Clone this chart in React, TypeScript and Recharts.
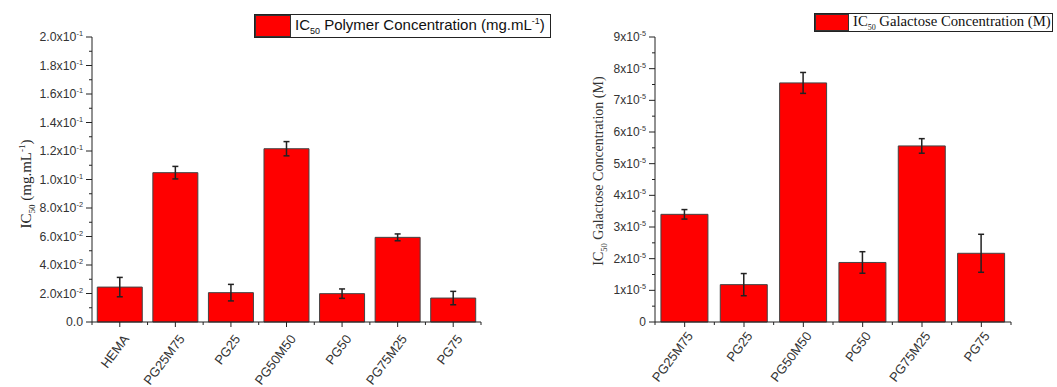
import React from "react";
import { BarChart, Bar, XAxis, YAxis, ErrorBar, Legend, Label } from "recharts";

// left panel: IC50 of each polymer (mg/mL)
const polymerNames = ["HEMA", "PG25M75", "PG25", "PG50M50", "PG50", "PG75M25", "PG75"];
const polymerIC50 = [0.0245, 0.1048, 0.0206, 0.1216, 0.0199, 0.0594, 0.0168];
const polymerErr = [0.0068, 0.0044, 0.0058, 0.005, 0.0033, 0.0024, 0.0047];
const polymerMajorTicks = [0, 0.02, 0.04, 0.06, 0.08, 0.1, 0.12, 0.14, 0.16, 0.18, 0.2];
const polymerMinorTicks = [0.01, 0.03, 0.05, 0.07, 0.09, 0.11, 0.13, 0.15, 0.17, 0.19];

// right panel: IC50 expressed as galactose concentration (M)
const galactoseNames = ["PG25M75", "PG25", "PG50M50", "PG50", "PG75M25", "PG75"];
const galactoseIC50 = [3.4e-5, 1.18e-5, 7.55e-5, 1.88e-5, 5.56e-5, 2.17e-5];
const galactoseErr = [0.15e-5, 0.35e-5, 0.33e-5, 0.34e-5, 0.23e-5, 0.6e-5];
const galactoseMajorTicks = [0, 1e-5, 2e-5, 3e-5, 4e-5, 5e-5, 6e-5, 7e-5, 8e-5, 9e-5];
const galactoseMinorTicks = [0.5e-5, 1.5e-5, 2.5e-5, 3.5e-5, 4.5e-5, 5.5e-5, 6.5e-5, 7.5e-5, 8.5e-5];

const polymerData = polymerNames.map((name, i) => ({ name, value: polymerIC50[i], err: polymerErr[i] }));
const galactoseData = galactoseNames.map((name, i) => ({ name, value: galactoseIC50[i], err: galactoseErr[i] }));

const SANS = "'Liberation Sans', Arial, sans-serif";
const SERIF = "'Liberation Serif', 'Times New Roman', serif";
const AXIS = "#222";
const TICK_TEXT = "#333";

const H = 387;
const TOP = 37;
const XAXIS_H = 65;

function sciParts(v: number, digits: number) {
  const exp = Math.floor(Math.log10(v) + 1e-9);
  const mant = v / Math.pow(10, exp);
  return { mant: mant.toFixed(digits), exp: String(exp) };
}

function makeYTick(majors: number[], digits: number, zeroLabel: string, fontSize: number) {
  return (props: any) => {
    const { x, y, payload } = props;
    const v = payload.value as number;
    const major = majors.some((m) => Math.abs(m - v) < 1e-12);
    const len = major ? 6 : 3;
    let label: React.ReactNode = null;
    if (major) {
      if (v === 0) {
        label = zeroLabel;
      } else {
        const p = sciParts(v, digits);
        label = (
          <>
            <tspan>{p.mant}x10</tspan>
            <tspan dy={-5} fontSize={fontSize * 0.6}>{p.exp}</tspan>
          </>
        );
      }
    }
    return (
      <g>
        <line x1={x - len} y1={y} x2={x} y2={y} stroke={AXIS} strokeWidth={1} />
        {major && (
          <text x={x - 9} y={y + 4} textAnchor="end" fontSize={fontSize} fontFamily={SANS} fill={TICK_TEXT}>
            {label}
          </text>
        )}
      </g>
    );
  };
}

function makeXTick(band: number, count: number, dx: number, dy: number) {
  return (props: any) => {
    const { x, y, payload, index } = props;
    const tx = x + dx;
    const ty = y + dy;
    return (
      <g>
        <line x1={x} y1={y} x2={x} y2={y + 5} stroke={AXIS} strokeWidth={1} />
        <line x1={x - band / 2} y1={y} x2={x - band / 2} y2={y + 3} stroke={AXIS} strokeWidth={1} />
        {index === count - 1 && (
          <line x1={x + band / 2} y1={y} x2={x + band / 2} y2={y + 3} stroke={AXIS} strokeWidth={1} />
        )}
        <text
          x={tx}
          y={ty}
          textAnchor="end"
          fontSize={13}
          fontFamily={SANS}
          fill={TICK_TEXT}
          transform={`rotate(-53, ${tx}, ${ty})`}
        >
          {payload.value}
        </text>
      </g>
    );
  };
}

function LegendBox({ width, height, swatchW, fontFamily, fontSize, children }: any) {
  return (
    <div
      style={{
        width,
        height,
        boxSizing: "border-box",
        border: "1px solid #222",
        background: "#fff",
        display: "flex",
        alignItems: "center",
        whiteSpace: "nowrap",
        overflow: "hidden",
      }}
    >
      <div
        style={{
          width: swatchW,
          height: height - 2,
          boxSizing: "border-box",
          background: "#ff0000",
          border: "1px solid #333",
          flex: "none",
        }}
      />
      <span style={{ marginLeft: 4, fontFamily, fontSize, color: "#111", lineHeight: 1 }}>{children}</span>
    </div>
  );
}

// left chart geometry
const L_W = 540;
const L_YW = 92;
const L_PLOT = 389;
// right chart geometry
const R_W = 517;
const R_YW = 115;
const R_PLOT = 356;

export default function App() {
  const polyTicks = [...polymerMajorTicks, ...polymerMinorTicks].sort((a, b) => a - b);
  const galTicks = [...galactoseMajorTicks, ...galactoseMinorTicks].sort((a, b) => a - b);

  return (
    <div style={{ position: "absolute", left: 0, top: 0, width: 1057, height: H, background: "#fff" }}>
      <div style={{ position: "absolute", left: 0, top: 0 }}>
        <BarChart
          width={L_W}
          height={H}
          data={polymerData}
          margin={{ top: TOP, right: L_W - L_YW - L_PLOT, bottom: 0, left: 0 }}
          barCategoryGap="9.5%"
        >
          <XAxis
            dataKey="name"
            height={XAXIS_H}
            interval={0}
            tickSize={0}
            tickMargin={0}
            axisLine={{ stroke: AXIS, strokeWidth: 1 }}
            tick={makeXTick(L_PLOT / polymerNames.length, polymerNames.length, 10, 17)}
          />
          <YAxis
            width={L_YW}
            domain={[0, 0.2]}
            ticks={polyTicks}
            interval={0}
            tickSize={0}
            tickMargin={0}
            axisLine={{ stroke: AXIS, strokeWidth: 1 }}
            tick={makeYTick(polymerMajorTicks, 1, "0.0", 12.3)}
          >
            <Label
              content={() => (
                <text
                  x={31}
                  y={184}
                  transform="rotate(-90, 31, 184)"
                  textAnchor="middle"
                  fontFamily={SERIF}
                  fontSize={15}
                  fill="#222"
                >
                  <tspan>IC</tspan>
                  <tspan dy={4} fontSize={9}>50</tspan>
                  <tspan dy={-4}> (mg.mL</tspan>
                  <tspan dy={-6} fontSize={9}>-1</tspan>
                  <tspan dy={6}>)</tspan>
                </text>
              )}
            />
          </YAxis>
          <Legend
            layout="vertical"
            align="center"
            verticalAlign="middle"
            wrapperStyle={{ left: 254, top: 14, width: "auto" }}
            content={() => (
              <LegendBox width={297} height={24} swatchW={36} fontFamily={SANS} fontSize={15}>
                IC<sub style={{ fontSize: 9 }}>50</sub> Polymer Concentration (mg.mL<sup style={{ fontSize: 9 }}>-1</sup>)
              </LegendBox>
            )}
          />
          <Bar dataKey="value" fill="#ff0000" stroke="#444" strokeWidth={1} isAnimationActive={false}>
            <ErrorBar dataKey="err" width={3} stroke="#222" strokeWidth={1.5} direction="y" />
          </Bar>
        </BarChart>
      </div>

      <div style={{ position: "absolute", left: 540, top: 0 }}>
        <BarChart
          width={R_W}
          height={H}
          data={galactoseData}
          margin={{ top: TOP, right: R_W - R_YW - R_PLOT, bottom: 0, left: 0 }}
          barCategoryGap="10%"
        >
          <XAxis
            dataKey="name"
            height={XAXIS_H}
            interval={0}
            tickSize={0}
            tickMargin={0}
            axisLine={{ stroke: AXIS, strokeWidth: 1 }}
            tick={makeXTick(R_PLOT / galactoseNames.length, galactoseNames.length, 9, 14)}
          />
          <YAxis
            width={R_YW}
            domain={[0, 9e-5]}
            ticks={galTicks}
            interval={0}
            tickSize={0}
            tickMargin={0}
            axisLine={{ stroke: AXIS, strokeWidth: 1 }}
            tick={makeYTick(galactoseMajorTicks, 0, "0", 12)}
          >
            <Label
              content={() => (
                <text
                  x={63}
                  y={171}
                  transform="rotate(-90, 63, 171)"
                  textAnchor="middle"
                  fontFamily={SERIF}
                  fontSize={14}
                  fill="#333"
                >
                  <tspan>IC</tspan>
                  <tspan dy={4} fontSize={8.5}>50</tspan>
                  <tspan dy={-4}> Galactose Concentration (M)</tspan>
                </text>
              )}
            />
          </YAxis>
          <Legend
            layout="vertical"
            align="center"
            verticalAlign="middle"
            wrapperStyle={{ left: 274, top: 13, width: "auto" }}
            content={() => (
              <LegendBox width={239} height={19} swatchW={34} fontFamily={SERIF} fontSize={14.7}>
                IC<sub style={{ fontSize: 8 }}>50</sub> Galactose Concentration (M)
              </LegendBox>
            )}
          />
          <Bar dataKey="value" fill="#ff0000" stroke="#444" strokeWidth={1} isAnimationActive={false}>
            <ErrorBar dataKey="err" width={3} stroke="#222" strokeWidth={1.5} direction="y" />
          </Bar>
        </BarChart>
      </div>
    </div>
  );
}
